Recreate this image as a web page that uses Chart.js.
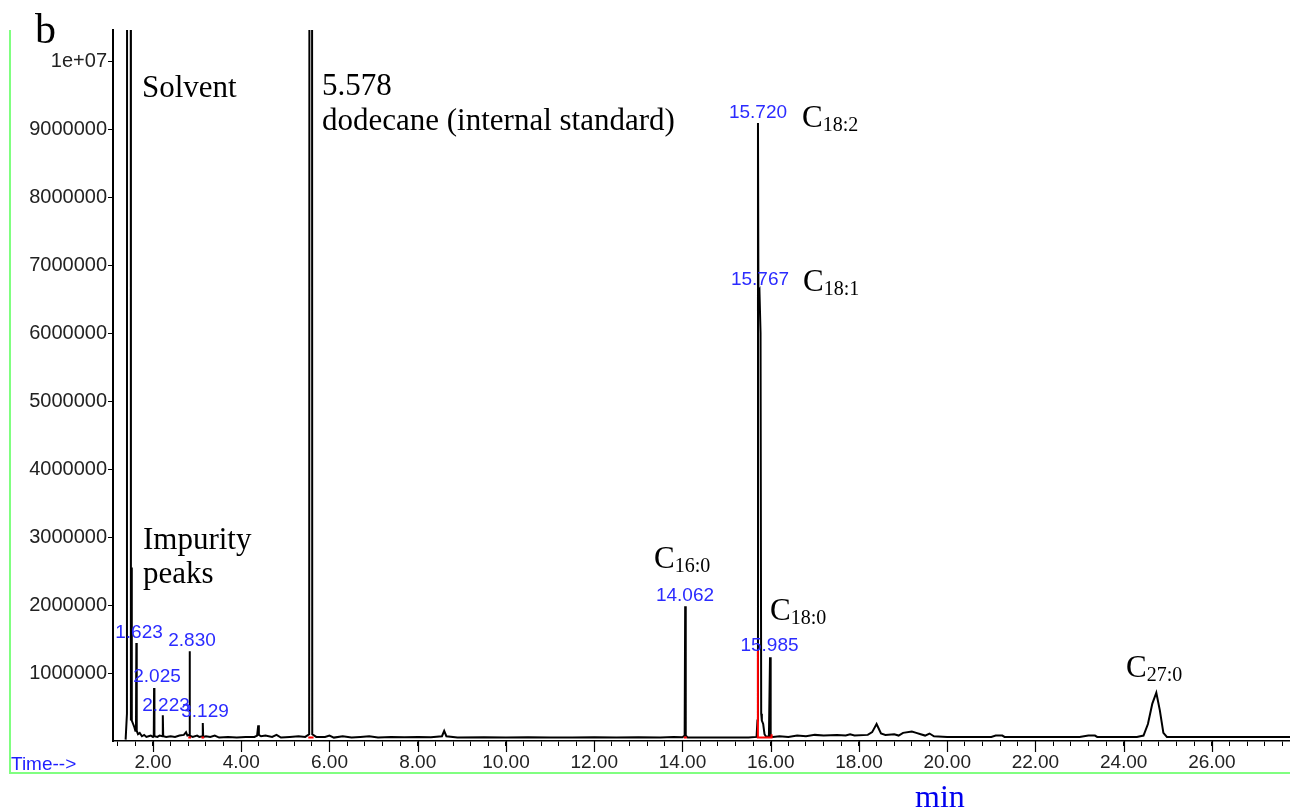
<!DOCTYPE html>
<html>
<head>
<meta charset="utf-8">
<style>
  html, body { margin: 0; padding: 0; background: #fff; }
  #chart { position: absolute; left: 0; top: 0; }
</style>
<script src="https://cdn.jsdelivr.net/npm/chart.js@4/dist/chart.umd.min.js"></script>
</head>
<body>
<canvas id="chart" width="1290" height="811"></canvas>
<script>
// retention time (min) and detector abundance for the chromatogram trace
const times = [
  1.38, 1.41, 1.425, 1.46, 1.48, 1.50, 1.51, 1.52, 1.55, 1.58, 1.60,
  1.615, 1.623, 1.632, 1.66, 1.70, 1.75, 1.80, 1.85, 1.90, 1.95, 2.00,
  2.018, 2.025, 2.033, 2.10, 2.15, 2.215, 2.223, 2.232, 2.30, 2.40, 2.50,
  2.60, 2.70, 2.75, 2.78, 2.822, 2.830, 2.838, 2.90, 3.00, 3.05, 3.12,
  3.129, 3.138, 3.20, 3.30, 3.40, 3.50, 3.70, 3.90, 4.10, 4.30, 4.36,
  4.386, 4.40, 4.45, 4.55, 4.70, 4.80, 4.90, 5.10, 5.30, 5.45, 5.54,
  5.568, 5.588, 5.61, 5.70, 5.90, 6.00, 6.10, 6.30, 6.50, 6.70, 6.90,
  7.10, 7.40, 7.70, 8.00, 8.30, 8.55, 8.60, 8.65, 8.90, 9.50, 10.0,
  10.5, 11.0, 11.5, 12.0, 12.5, 13.0, 13.5, 13.8, 14.0, 14.05, 14.062,
  14.075, 14.12, 14.5, 15.0, 15.5, 15.68, 15.70, 15.712, 15.722, 15.745,
  15.77, 15.785, 15.80, 15.83, 15.86, 15.90, 15.96, 15.985, 16.00, 16.05,
  16.2, 16.4, 16.6, 16.8, 17.0, 17.2, 17.5, 17.7, 17.8, 17.9, 18.2,
  18.3, 18.4, 18.5, 18.6, 18.8, 18.9, 19.0, 19.2, 19.3, 19.4, 19.5,
  19.6, 19.7, 20.0, 20.5, 21.0, 21.1, 21.25, 21.3, 22.0, 23.0, 23.2,
  23.35, 23.4, 24.3, 24.45, 24.55, 24.65, 24.74, 24.82, 24.9, 24.98, 26.0,
  27.8
];
const abundance = [
  20000, 400000, 60000000, 60000000, 60000000, 300000, 2550000, 300000, 250000, 200000, 150000,
  200000, 1440000, 150000, 100000, 120000, 70000, 90000, 60000, 70000, 80000, 60000,
  70000, 780000, 70000, 60000, 80000, 70000, 380000, 70000, 60000, 70000, 60000,
  80000, 90000, 130000, 80000, 90000, 1320000, 80000, 60000, 80000, 60000, 70000,
  265000, 60000, 70000, 60000, 80000, 50000, 60000, 50000, 60000, 60000, 80000,
  230000, 90000, 70000, 80000, 60000, 90000, 50000, 60000, 70000, 60000, 100000,
  60000000, 60000000, 100000, 60000, 60000, 80000, 50000, 70000, 50000, 60000, 70000,
  50000, 60000, 55000, 60000, 55000, 70000, 150000, 70000, 50000, 55000, 50000,
  55000, 50000, 50000, 55000, 50000, 55000, 50000, 60000, 55000, 80000, 1980000,
  80000, 50000, 50000, 50000, 50000, 60000, 300000, 9090000, 6600000, 6630000,
  6000000, 400000, 300000, 250000, 100000, 60000, 70000, 1230000, 70000, 60000,
  70000, 60000, 80000, 70000, 90000, 80000, 90000, 80000, 100000, 80000, 90000,
  130000, 250000, 110000, 90000, 100000, 80000, 120000, 140000, 120000, 100000, 80000,
  110000, 70000, 60000, 60000, 60000, 80000, 80000, 60000, 60000, 60000, 80000,
  80000, 60000, 60000, 80000, 250000, 550000, 710000, 450000, 120000, 60000, 60000,
  60000
];

// red integration baselines (null breaks the segments)
const intTimes = [
  1.42, 1.42, 1.45, 1.50, 1.56, 1.60, null,
  1.60, 1.66, null,
  2.00, 2.05, null,
  2.20, 2.24, null,
  2.80, 2.86, null,
  3.10, 3.16, null,
  5.52, 5.64, null,
  14.03, 14.10, null,
  15.71, 15.71, 16.02, 16.02
];
const intValues = [
  50000, 700000, 300000, 150000, 100000, 50000, null,
  60000, 60000, null,
  50000, 50000, null,
  50000, 50000, null,
  50000, 50000, null,
  50000, 50000, null,
  50000, 50000, null,
  50000, 50000, null,
  1330000, 50000, 50000, 100000
];

const xTickValues = [];
for (let i = 0; i <= 66; i++) xTickValues.push(Math.round((1.2 + i * 0.4) * 10) / 10);
const yTickValues = [1000000, 2000000, 3000000, 4000000, 5000000, 6000000, 7000000, 8000000, 9000000, 10000000];
const yTickLabels = ['1000000', '2000000', '3000000', '4000000', '5000000', '6000000', '7000000', '8000000', '9000000', '1e+07'];

const rtLabels = ['1.623', '2.830', '2.025', '2.223', '3.129', '14.062', '15.985', '15.720', '15.767'];

const tracePoints = times.map((t, i) => ({ x: t, y: abundance[i] }));
const intPoints = intTimes.map((t, i) => ({ x: t, y: intValues[i] }));

const isMajor = v => Math.abs(v / 2 - Math.round(v / 2)) < 1e-6;

const SANS = '"Liberation Sans", Arial, sans-serif';
const SERIF = '"Liberation Serif", "Times New Roman", serif';

function chemLabel(ctx, x, y, sub) {
  ctx.font = '31px ' + SERIF;
  ctx.fillText('C', x, y);
  const w = ctx.measureText('C').width;
  ctx.font = '20px ' + SERIF;
  ctx.fillText(sub, x + w, y + 4);
}

const decorations = {
  id: 'decorations',
  afterDraw(chart) {
    const ctx = chart.ctx;
    const xs = chart.scales.x;
    const bottom = chart.chartArea.bottom;
    ctx.save();

    // longer major ticks on the time axis
    ctx.strokeStyle = '#000';
    ctx.lineWidth = 1.2;
    xTickValues.filter(isMajor).forEach(v => {
      const px = Math.round(xs.getPixelForValue(v)) + 0.5;
      ctx.beginPath();
      ctx.moveTo(px, bottom);
      ctx.lineTo(px, bottom + 11);
      ctx.stroke();
    });

    // green frame
    ctx.strokeStyle = '#80ff80';
    ctx.lineWidth = 2;
    ctx.beginPath();
    ctx.moveTo(10, 30);
    ctx.lineTo(10, 773);
    ctx.lineTo(1290, 773);
    ctx.stroke();

    // blue retention time labels
    const rtPos = [[139, 633], [192, 641], [157, 677], [166, 706], [205, 712], [685, 596], [769.5, 646], [758, 113], [760, 280]];
    ctx.fillStyle = '#2b2bff';
    ctx.font = '19px ' + SANS;
    ctx.textAlign = 'center';
    ctx.textBaseline = 'middle';
    rtLabels.forEach((s, i) => ctx.fillText(s, rtPos[i][0], rtPos[i][1]));

    ctx.textAlign = 'left';
    ctx.textBaseline = 'alphabetic';
    ctx.fillStyle = '#1f1fff';
    ctx.fillText('Time-->', 11, 770);
    ctx.fillStyle = '#0000ee';
    ctx.font = '32px ' + SERIF;
    ctx.fillText('min', 915, 807);

    // black annotations
    ctx.fillStyle = '#000';
    ctx.font = '42px ' + SERIF;
    ctx.fillText('b', 35, 43);
    ctx.font = '31px ' + SERIF;
    ctx.fillText('Solvent', 142, 97);
    ctx.fillText('5.578', 322, 95);
    ctx.fillText('dodecane (internal standard)', 322, 130);
    ctx.fillText('Impurity', 143, 549);
    ctx.fillText('peaks', 143, 583);
    chemLabel(ctx, 654, 568, '16:0');
    chemLabel(ctx, 770, 620, '18:0');
    chemLabel(ctx, 802, 127, '18:2');
    chemLabel(ctx, 803, 291, '18:1');
    chemLabel(ctx, 1126, 677, '27:0');
    ctx.restore();
  }
};

new Chart(document.getElementById('chart'), {
  type: 'line',
  data: {
    datasets: [
      { data: intPoints, borderColor: '#ff0000', borderWidth: 2, pointRadius: 0, spanGaps: false },
      { data: tracePoints, borderColor: '#000', borderWidth: 2, pointRadius: 0 }
    ]
  },
  options: {
    responsive: false,
    animation: false,
    devicePixelRatio: 1,
    parsing: false,
    layout: { padding: { top: 30, left: 0, right: 0, bottom: 0 } },
    elements: { line: { tension: 0 } },
    plugins: { legend: { display: false }, tooltip: { enabled: false } },
    scales: {
      x: {
        type: 'linear',
        min: 1.094,
        max: 27.77,
        afterBuildTicks: s => { s.ticks = xTickValues.map(v => ({ value: v })); },
        afterFit: s => { s.height = 70; },
        border: { display: true, color: '#000', width: 1.5 },
        grid: { drawOnChartArea: false, drawTicks: true, tickLength: 5, color: '#000' },
        ticks: {
          autoSkip: false, maxRotation: 0, padding: 5, color: '#222',
          font: { family: SANS, size: 19 },
          callback: v => isMajor(v) ? v.toFixed(2) : ''
        }
      },
      y: {
        min: 0,
        max: 10456000,
        afterBuildTicks: s => { s.ticks = yTickValues.map(v => ({ value: v })); },
        afterFit: s => { s.width = 113; },
        border: { display: true, color: '#000', width: 2 },
        grid: { drawOnChartArea: false, drawTicks: true, tickLength: 5, color: '#000' },
        ticks: {
          padding: 1, color: '#222',
          font: { family: SANS, size: 20 },
          callback: v => yTickLabels[yTickValues.indexOf(v)]
        }
      }
    }
  },
  plugins: [decorations]
});
</script>
</body>
</html>
